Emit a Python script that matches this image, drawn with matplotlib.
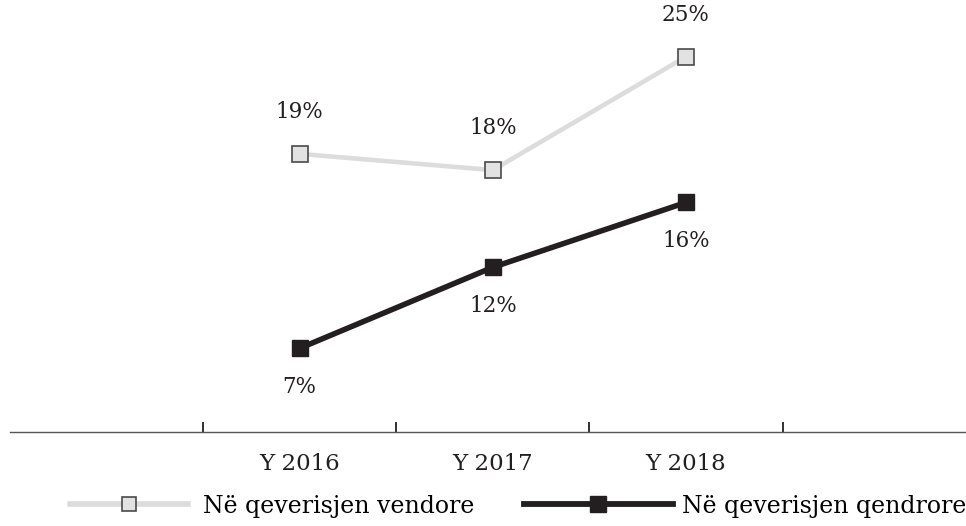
import matplotlib.pyplot as plt
from matplotlib.lines import Line2D

YEARS = ["Y 2016", "Y 2017", "Y 2018"]
LOCAL = [19, 18, 25]      # Në qeverisjen vendore
CENTRAL = [7, 12, 16]     # Në qeverisjen qendrore
LOCAL_LABEL = "Në qeverisjen vendore"
CENTRAL_LABEL = "Në qeverisjen qendrore"

GREY_LINE = "#dcdcdc"
GREY_FACE = "#e2e2e2"
DARK = "#231f20"

plt.rcParams["font.family"] = ["DejaVu Serif"]
FS_LABEL = 15.5
FS_TICK = 16.5
FS_LEG = 17

fig = plt.figure(figsize=(9.66, 5.26), dpi=100)
ax = fig.add_axes([0.0104, 0.1787, 0.9896, 0.8213])

xs = [1, 2, 3]
ax.plot(xs, LOCAL, "-s", color=GREY_LINE, lw=3.3, ms=11.5,
        mfc=GREY_FACE, mec="#4a4a4a", mew=1.2, zorder=3)
ax.plot(xs, CENTRAL, "-s", color=DARK, lw=4.0, ms=11.5,
        mfc=DARK, mec=DARK, zorder=3)

for x, v in zip(xs, LOCAL):
    ax.annotate(f"{v}%", (x, v), xytext=(0, 30), textcoords="offset points",
                ha="center", va="center", fontsize=FS_LABEL, color=DARK)
for x, v in zip(xs, CENTRAL):
    ax.annotate(f"{v}%", (x, v), xytext=(0, -28), textcoords="offset points",
                ha="center", va="center", fontsize=FS_LABEL, color=DARK)

ax.set_xlim(-0.5, 4.45)
ax.set_ylim(1.83, 28.5)
for s in ["top", "right", "left"]:
    ax.spines[s].set_visible(False)
ax.spines["bottom"].set_color("#555555")
ax.spines["bottom"].set_linewidth(1)
ax.set_yticks([])

ax.set_xticks(xs)
ax.set_xticklabels(YEARS, fontsize=FS_TICK, color=DARK)
ax.tick_params(axis="x", which="major", length=0, pad=15)
ax.set_xticks([0.5, 1.5, 2.5, 3.5], minor=True)
ax.tick_params(axis="x", which="minor", direction="in", length=7,
               width=1.3, color=DARK)

h1 = Line2D([], [], color=GREY_LINE, lw=4, marker="s", ms=10,
            mfc=GREY_FACE, mec="#4a4a4a", mew=1.2)
h2 = Line2D([], [], color=DARK, lw=4.2, marker="s", ms=11.5, mfc=DARK, mec=DARK)
fig.legend([h1], [LOCAL_LABEL], loc="center left",
           bbox_to_anchor=(0.0725, 0.038), frameon=False, fontsize=FS_LEG,
           handlelength=5.0, handletextpad=0.62, borderpad=0, borderaxespad=0)
fig.legend([h2], [CENTRAL_LABEL], loc="center left",
           bbox_to_anchor=(0.5424, 0.038), frameon=False, fontsize=FS_LEG,
           handlelength=6.3, handletextpad=0.4, borderpad=0, borderaxespad=0)

fig.savefig("out.png", dpi=100)
